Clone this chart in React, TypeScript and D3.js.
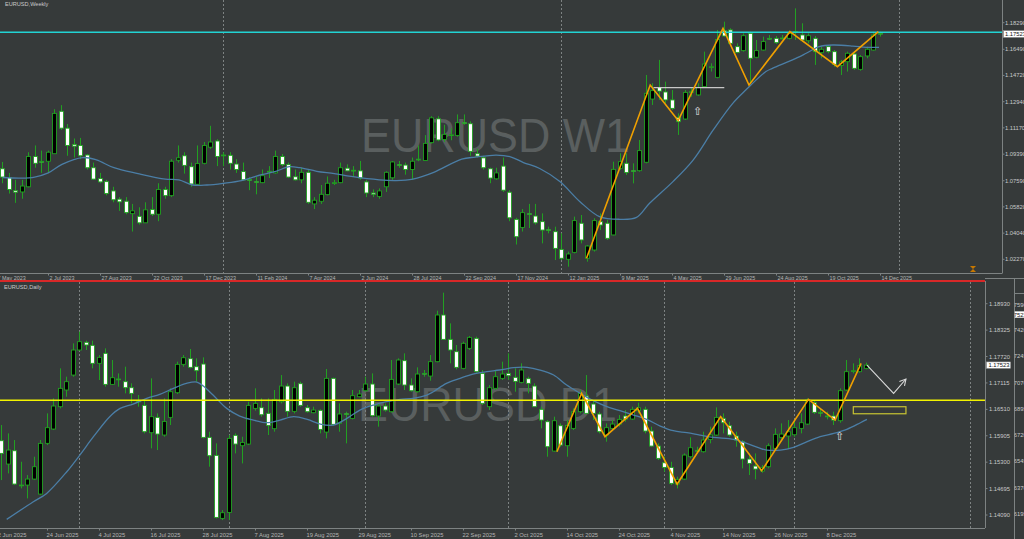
import React from "react";
import * as d3 from "d3";

// ================= Weekly EURUSD (W1) =================
const wOpen = [
  1.0840,1.0781,1.0692,1.0683,1.0718,1.0923,1.0889,1.0891,1.0942,1.1229,
  1.1115,1.1005,1.0998,1.0933,1.0847,1.0774,1.0753,1.0690,1.0634,1.0620,
  1.0536,1.0518,1.0474,1.0564,1.0532,1.0700,1.0658,1.0898,1.0928,1.0854,
  1.0735,1.0877,1.0986,1.1028,1.0933,1.0931,1.0872,1.0821,1.0767,1.0753,
  1.0746,1.0819,1.0812,1.0923,1.0868,1.0786,1.0765,1.0816,1.0602,1.0620,
  1.0665,1.0742,1.0746,1.0844,1.0830,1.0826,1.0751,1.0676,1.0653,1.0718,
  1.0779,1.0868,1.0865,1.0835,1.0903,1.0896,1.1017,1.1178,1.1038,1.1068,
  1.1066,1.1152,1.1145,1.0942,1.0914,1.0840,1.0772,1.0858,1.0681,1.0497,
  1.0443,1.0536,1.0520,1.0482,1.0428,1.0414,1.0294,1.0227,1.0274,1.0471,
  1.0234,1.0290,1.0482,1.0471,1.0392,1.0843,1.0877,1.0827,1.0827,1.0884,
  1.1312,1.1391,1.1360,1.1306,1.1188,1.1177,1.1360,1.1340,1.1396,1.1527,
  1.1459,1.1775,1.1780,1.1667,1.1640,1.1757,1.1595,1.1644,1.1723,1.1723,
  1.1720,1.1723,1.1766,1.1746,1.1707,1.1723,1.1626,1.1667,1.1633,1.1540,
  1.1565,1.1617,1.1513,1.1604,1.1644,1.1757,
];
const wHigh = [
  1.0886,1.0812,1.0765,1.0765,1.0952,1.0998,1.0963,1.0963,1.1243,1.1271,
  1.1143,1.1045,1.1049,1.0940,1.0882,1.0812,1.0765,1.0718,1.0648,1.0648,
  1.0602,1.0579,1.0613,1.0648,1.0742,1.0718,1.0905,1.0998,1.0952,1.0882,
  1.0998,1.1021,1.1131,1.1040,1.0952,1.0952,1.0905,1.0882,1.0784,1.0784,
  1.0835,1.0858,1.0963,1.0940,1.0882,1.0835,1.0847,1.0835,1.0648,1.0730,
  1.0788,1.0765,1.0882,1.0870,1.0858,1.0893,1.0765,1.0700,1.0707,1.0823,
  1.0893,1.0893,1.0882,1.0916,1.0998,1.1068,1.1196,1.1196,1.1138,1.1115,
  1.1208,1.1208,1.1161,1.0975,1.0928,1.0847,1.0847,1.0916,1.0695,1.0508,
  1.0567,1.0602,1.0602,1.0538,1.0448,1.0448,1.0403,1.0279,1.0516,1.0527,
  1.0324,1.0505,1.0538,1.0494,1.0888,1.0945,1.0945,1.0877,1.1035,1.1475,
  1.1419,1.1577,1.1430,1.1373,1.1215,1.1373,1.1385,1.1419,1.1633,1.1554,
  1.1780,1.1836,1.1791,1.1689,1.1757,1.1768,1.1712,1.1735,1.1746,1.1739,
  1.1746,1.1775,1.1926,1.1825,1.1757,1.1739,1.1667,1.1678,1.1644,1.1577,
  1.1633,1.1633,1.1610,1.1667,1.1768,1.1768,
];
const wLow = [
  1.0742,1.0672,1.0609,1.0637,1.0714,1.0847,1.0812,1.0812,1.0940,1.1103,
  1.0928,1.0916,1.0905,1.0835,1.0765,1.0742,1.0660,1.0613,1.0555,1.0532,
  1.0415,1.0462,1.0474,1.0520,1.0485,1.0637,1.0648,1.0882,1.0807,1.0718,
  1.0730,1.0870,1.0975,1.0858,1.0858,1.0835,1.0812,1.0760,1.0695,1.0667,
  1.0742,1.0777,1.0807,1.0858,1.0777,1.0760,1.0742,1.0602,1.0567,1.0602,
  1.0660,1.0730,1.0742,1.0823,1.0788,1.0765,1.0648,1.0648,1.0637,1.0683,
  1.0765,1.0847,1.0800,1.0765,1.0891,1.0893,1.1010,1.1026,1.1021,1.1033,
  1.1057,1.1138,1.0928,1.0916,1.0835,1.0742,1.0765,1.0683,1.0485,1.0327,
  1.0415,1.0439,1.0462,1.0335,1.0403,1.0222,1.0222,1.0177,1.0267,1.0335,
  1.0211,1.0279,1.0425,1.0358,1.0389,1.0832,1.0798,1.0741,1.0820,1.0877,
  1.1272,1.1306,1.1283,1.1238,1.1069,1.1170,1.1328,1.1333,1.1391,1.1498,
  1.1452,1.1735,1.1678,1.1622,1.1633,1.1419,1.1588,1.1640,1.1712,1.1685,
  1.1716,1.1716,1.1712,1.1701,1.1689,1.1543,1.1588,1.1622,1.1531,1.1475,
  1.1498,1.1509,1.1504,1.1588,1.1640,1.1735,
];
const wClose = [
  1.0784,1.0700,1.0681,1.0723,1.0923,1.0877,1.0887,1.0952,1.1215,1.1115,
  1.0998,1.0993,1.0928,1.0847,1.0770,1.0751,1.0672,1.0630,1.0616,1.0543,
  1.0555,1.0474,1.0562,1.0532,1.0700,1.0658,1.0891,1.0914,1.0863,1.0737,
  1.0875,1.0998,1.1021,1.0923,1.0931,1.0877,1.0835,1.0765,1.0763,1.0751,
  1.0793,1.0823,1.0923,1.0868,1.0784,1.0765,1.0816,1.0613,1.0627,1.0667,
  1.0742,1.0746,1.0847,1.0826,1.0828,1.0777,1.0676,1.0667,1.0690,1.0816,
  1.0886,1.0866,1.0835,1.0891,1.0905,1.1012,1.1185,1.1035,1.1073,1.1070,
  1.1152,1.1150,1.0958,1.0926,1.0847,1.0777,1.0812,1.0695,1.0508,1.0380,
  1.0543,1.0534,1.0474,1.0425,1.0422,1.0301,1.0234,1.0263,1.0489,1.0358,
  1.0317,1.0489,1.0459,1.0369,1.0836,1.0888,1.0814,1.0823,1.0963,1.1351,
  1.1369,1.1366,1.1306,1.1249,1.1159,1.1357,1.1362,1.1391,1.1549,1.1531,
  1.1716,1.1739,1.1689,1.1628,1.1741,1.1588,1.1640,1.1701,1.1721,1.1694,
  1.1725,1.1757,1.1770,1.1712,1.1741,1.1633,1.1649,1.1633,1.1547,1.1563,
  1.1622,1.1520,1.1599,1.1649,1.1746,1.1752,
];
const wLastWeek = "2025-12-14";
const wTickLabels = [
  "7 May 2023","2 Jul 2023","27 Aug 2023","22 Oct 2023","17 Dec 2023","11 Feb 2024",
  "7 Apr 2024","2 Jun 2024","28 Jul 2024","22 Sep 2024","17 Nov 2024","12 Jan 2025",
  "9 Mar 2025","4 May 2025","29 Jun 2025","24 Aug 2025","19 Oct 2025","14 Dec 2025",
];
const wPriceTicks = [1.1829,1.1649,1.1472,1.1294,1.1117,1.0939,1.0759,1.0582,1.0404,1.0227];
const wMaIdx = [0,2.75,4.9,7,9.1,12.3,14.4,17.1,20.8,25,27.1,29.2,31.4,34,36.7,39.8,42,44.1,45.7,48.3,51,53.6,57.9,60.5,63.1,66.3,70.6,72.7,75.9,78,80.1,82.6,85.7,88.8,91.8,94.9,97.5,99.5,103.1,106.2,109.3,112.3,114.3,117.4,118.4,121.5,123.6,125.6,127.7,130.8,132.8,134.8];
const wMaVal = [1.0781,1.0777,1.0784,1.0812,1.0870,1.0916,1.0900,1.0847,1.0807,1.0770,1.0765,1.0730,1.0730,1.0742,1.0760,1.0800,1.0823,1.0854,1.0847,1.0823,1.0807,1.0788,1.0765,1.0760,1.0770,1.0816,1.0905,1.0919,1.0933,1.0923,1.0882,1.0842,1.0753,1.0617,1.0516,1.0498,1.0511,1.0606,1.0753,1.0899,1.1103,1.1283,1.1373,1.1498,1.1520,1.1577,1.1622,1.1667,1.1678,1.1671,1.1662,1.1662];
const wZzIdx = [89.8,99.6,103.9,110.8,114.8,121.1,128.4,134.7];
const wZzVal = [1.0234,1.1407,1.1166,1.1791,1.1407,1.1768,1.1531,1.1768];
const wResistance = 1.1764;
const wRangeIdx = [100.1,111.0];
const wRangePrice = 1.1389;
const wMarker = [106.9,1.1231];

// ================= Daily EURUSD (D1) =================
const dOpen = [
  1.15792,1.15257,1.15562,1.14776,1.14776,1.14913,1.14569,1.15731,1.16059,1.16571,
  1.16953,1.17296,1.17869,1.18045,1.17976,1.17564,1.17793,1.17082,1.17205,1.17144,
  1.17006,1.16700,1.16601,1.15975,1.16326,1.15922,1.16326,1.16891,1.17541,1.17670,
  1.17487,1.17548,1.15868,1.15455,1.14012,1.14149,1.15914,1.15677,1.15715,1.16532,
  1.16548,1.16418,1.16067,1.16685,1.17044,1.16464,1.17098,1.16548,1.16433,1.16487,
  1.15990,1.17220,1.16189,1.16410,1.16303,1.16800,1.16937,1.17090,1.16357,1.16586,
  1.16456,1.17090,1.17625,1.17067,1.16914,1.17334,1.17273,1.17602,1.18671,1.18113,
  1.17831,1.17449,1.17907,1.18136,1.17334,1.16571,1.16991,1.17220,1.17334,1.17243,
  1.17128,1.17212,1.17044,1.16510,1.16227,1.15555,1.16135,1.15677,1.16074,1.16456,
  1.16815,1.16632,1.16403,1.15922,1.16074,1.16173,1.16357,1.16288,1.16479,1.16510,
  1.16013,1.15669,1.15287,1.15180,1.14799,1.14913,1.15425,1.15570,1.15540,1.15822,
  1.15922,1.16303,1.16135,1.15899,1.15769,1.15371,1.15211,1.15097,1.15196,1.15616,
  1.15868,1.15899,1.15929,1.16074,1.16173,1.16662,1.16441,1.16357,1.16357,1.16250,
  1.16953,1.17380,1.17373,1.17449,
];
const dHigh = [
  1.16151,1.15960,1.15807,1.15310,1.15005,1.15425,1.15807,1.16418,1.16762,1.17449,
  1.17258,1.18022,1.18289,1.18083,1.18083,1.17754,1.17907,1.17640,1.17334,1.17487,
  1.17105,1.16838,1.16723,1.17220,1.16418,1.16762,1.16991,1.17602,1.17754,1.17892,
  1.17678,1.17701,1.15998,1.15731,1.14203,1.15922,1.15960,1.15883,1.16685,1.16991,
  1.16762,1.16762,1.16953,1.17296,1.17105,1.17144,1.17144,1.16609,1.16571,1.16510,
  1.17434,1.17235,1.16647,1.16456,1.16953,1.16953,1.17258,1.17334,1.16647,1.16647,
  1.17640,1.17678,1.17793,1.17220,1.17472,1.17411,1.17754,1.18770,1.19183,1.18480,
  1.17984,1.18060,1.18190,1.18175,1.17411,1.17067,1.17411,1.17602,1.17793,1.17449,
  1.17564,1.17258,1.17105,1.16571,1.16265,1.16342,1.16189,1.16265,1.16532,1.16953,
  1.17296,1.16723,1.16456,1.16189,1.16265,1.16380,1.16494,1.16571,1.16662,1.16571,
  1.16113,1.15731,1.15425,1.15310,1.14967,1.15501,1.15868,1.15654,1.15998,1.16113,
  1.16555,1.16418,1.16227,1.15998,1.15807,1.15501,1.15501,1.15234,1.15731,1.16074,
  1.16189,1.16265,1.16265,1.16418,1.16762,1.16723,1.16532,1.16456,1.16456,1.16991,
  1.17640,1.17564,1.17678,1.17579,
];
const dLow = [
  1.14890,1.15043,1.14776,1.14699,1.14470,1.14890,1.14546,1.15692,1.16036,1.16532,
  1.16800,1.17258,1.17854,1.17869,1.17449,1.17182,1.17029,1.17067,1.17029,1.16876,
  1.16647,1.16571,1.15960,1.15616,1.15578,1.15883,1.16151,1.16861,1.17487,1.17449,
  1.17144,1.15845,1.15196,1.14012,1.13973,1.13973,1.15501,1.15272,1.15692,1.16479,
  1.16342,1.15922,1.15998,1.16647,1.16342,1.16418,1.16571,1.16433,1.16418,1.15960,
  1.15845,1.16143,1.15998,1.15731,1.16280,1.16784,1.16914,1.16342,1.16113,1.16456,
  1.16433,1.17067,1.16953,1.16914,1.16891,1.17258,1.17166,1.17587,1.18098,1.17564,
  1.17426,1.17426,1.17869,1.17350,1.16609,1.16494,1.16953,1.17182,1.17182,1.16914,
  1.17105,1.16876,1.16571,1.16074,1.15425,1.15540,1.15654,1.15425,1.16036,1.16418,
  1.16403,1.16265,1.15960,1.15769,1.16036,1.16113,1.16227,1.16265,1.16418,1.15960,
  1.15654,1.15349,1.15081,1.14776,1.14699,1.14890,1.15387,1.15501,1.15517,1.15731,
  1.15899,1.15960,1.15883,1.15654,1.15158,1.15005,1.14906,1.15058,1.15158,1.15562,
  1.15822,1.15616,1.15883,1.15960,1.16151,1.16403,1.16342,1.16280,1.16151,1.16204,
  1.16930,1.17334,1.17350,1.17426,
];
const dClose = [
  1.15501,1.15578,1.14799,1.14760,1.14913,1.15196,1.15731,1.16090,1.16586,1.16991,
  1.17144,1.17869,1.18060,1.17984,1.17564,1.17701,1.17082,1.17235,1.17190,1.17006,
  1.16876,1.16685,1.15998,1.16342,1.15944,1.16234,1.16914,1.17541,1.17693,1.17472,
  1.17396,1.15868,1.15448,1.14035,1.14142,1.15845,1.15715,1.15753,1.16601,1.16647,
  1.16387,1.16143,1.16739,1.17044,1.16464,1.17006,1.16601,1.16456,1.16494,1.16051,
  1.17220,1.16166,1.16403,1.16395,1.16823,1.16861,1.17090,1.16364,1.16586,1.16494,
  1.17197,1.17640,1.17067,1.16937,1.17319,1.17319,1.17602,1.18671,1.18113,1.17869,
  1.17472,1.18022,1.18159,1.17373,1.16647,1.17006,1.17258,1.17319,1.17281,1.17151,
  1.17411,1.17105,1.16571,1.16265,1.15654,1.16250,1.15692,1.16143,1.16456,1.16876,
  1.16418,1.16418,1.15998,1.16090,1.16173,1.16280,1.16288,1.16510,1.16548,1.16013,
  1.15669,1.15387,1.15180,1.14814,1.14906,1.15463,1.15631,1.15562,1.15807,1.15922,
  1.16326,1.16204,1.15922,1.15807,1.15371,1.15272,1.15142,1.15173,1.15677,1.15937,
  1.15944,1.15998,1.16090,1.16204,1.16723,1.16441,1.16425,1.16350,1.16265,1.16937,
  1.17373,1.17396,1.17510,1.17523,
];
const dFirstSession = "2025-06-13";
const dExtraSessions = ["2025-10-26"];
const dTickLabels = [
  "12 Jun 2025","24 Jun 2025","4 Jul 2025","16 Jul 2025","28 Jul 2025","7 Aug 2025",
  "19 Aug 2025","29 Aug 2025","10 Sep 2025","22 Sep 2025","2 Oct 2025","14 Oct 2025",
  "24 Oct 2025","4 Nov 2025","14 Nov 2025","26 Nov 2025","8 Dec 2025",
];
const dPriceTicks = [1.1893,1.18325,1.1772,1.17115,1.1651,1.15905,1.153,1.14695,1.1409];
const dMaIdx = [0.75,4.85,6.9,10,12,14.1,16.6,18.2,20.2,22.3,24.3,26.4,28.4,30,31,32.5,34.6,36.6,38.7,40.8,42.8,44.9,47,49,51,53.1,55.1,57.2,59.2,61.3,63.3,65.4,66.4,68.4,70.5,72.5,74.6,76.6,78.7,80.8,82.8,84.9,86.9,89,91,93.1,95.1,97.2,99.2,101.3,103.3,105.4,107.4,109.5,112.6,114.6,116.7,117.7,119.8,121.8,123.9,125.9,128,130,132.1,133.1];
const dMaVal = [1.13989,1.14394,1.14585,1.15081,1.15463,1.15883,1.16342,1.16532,1.16632,1.16762,1.16853,1.16991,1.17105,1.17136,1.17044,1.16838,1.16532,1.16357,1.16265,1.16204,1.16265,1.16342,1.16280,1.16173,1.16151,1.16303,1.16494,1.16609,1.16685,1.16739,1.16762,1.16838,1.16914,1.17105,1.17220,1.17319,1.17373,1.17411,1.17464,1.17472,1.17411,1.17296,1.17067,1.16876,1.16708,1.16571,1.16479,1.16380,1.16280,1.16128,1.16021,1.15975,1.15922,1.15868,1.15822,1.15731,1.15616,1.15578,1.15578,1.15639,1.15769,1.15883,1.15960,1.16051,1.16204,1.16280];
const dZzIdx = [85.4,89.2,92.8,97.8,103.9,110.6,116.9,124.1,128.2,132.2];
const dZzVal = [1.15540,1.16876,1.15883,1.16532,1.14799,1.16342,1.15104,1.16739,1.16265,1.17564];
const dLevel = 1.16717;
const dZoneIdx = [131.0,139.1];
const dZonePrice = [1.16570,1.16409];
const dProjIdx = [133.1,137.2,139.1];
const dProjVal = [1.17525,1.16877,1.17205];
const dMarker = [128.9,1.15905];
const lastPrice = 1.17523;
// neighbouring window's scale, only its tail is visible at the right edge
const sidePanelValues = [1.1759,1.1742,1.17245,1.1707,1.16895,1.1672,1.16545,1.1637,1.16195];

// ================= styling =================
const BG = "#363a3a";
const WICK = "#22a022";
const FRAME = "#7d8282";
const TXT = "#c9c9c9";
const FONT = "'Liberation Sans', Arial, sans-serif";
const fmt5 = d3.format(".5f");
const isoFmt = d3.timeFormat("%Y-%m-%d");
const isoParse = d3.timeParse("%Y-%m-%d");
const labelParse = d3.timeParse("%d %b %Y");

// panel geometry
const TOP = { right: 1002, bottom: 273.5 };
const BOT = { top: 282, right: 985, bottom: 528 };

const xW = d3.scaleLinear().domain([0, wOpen.length - 1]).range([2.8, 880.3]);
const yW = d3.scaleLinear().domain([1.0227, 1.1829]).range([259.3, 22.7]);
const xD = d3.scaleLinear().domain([0, dOpen.length - 1]).range([1.8, 866.3]);
const yD = d3.scaleLinear().domain([1.1409, 1.1893]).range([515, 303.7]);
const ySide = d3.scaleLinear().domain([1.1619, 1.1759]).range([514.5, 304.5]);

// weekly calendar
const wLast = isoParse(wLastWeek)!;
const wFirst = d3.timeWeek.offset(wLast, -(wOpen.length - 1));
const wDate = (i: number) => d3.timeWeek.offset(wFirst, i);
const wIndexOf = (d: Date) => Math.round((+d - +wFirst) / (7 * 864e5));

// daily calendar
const dDates: Date[] = (() => {
  const out: Date[] = [];
  const extra = new Set(dExtraSessions);
  let d = isoParse(dFirstSession)!;
  while (out.length < dOpen.length) {
    const wd = d.getDay();
    if ((wd >= 1 && wd <= 5) || extra.has(isoFmt(d))) out.push(d);
    d = d3.timeDay.offset(d, 1);
  }
  return out;
})();
const dDate = (i: number) =>
  i < dDates.length ? dDates[i] : d3.timeDay.offset(dDates[dDates.length - 1], i - (dDates.length - 1));
const dIndexOf = (d: Date) => {
  const k = dDates.findIndex((x) => isoFmt(x) === isoFmt(d));
  if (k >= 0) return k;
  let n = 0;
  let c = d;
  while (c < dDates[0]) {
    const wd = c.getDay();
    if (wd >= 1 && wd <= 5) n++;
    c = d3.timeDay.offset(c, 1);
  }
  return -n;
};

function Candles({ o, h, l, c, x, y }: any) {
  return (
    <g>
      {o.map((_: number, i: number) => {
        const cx = Math.floor(x(i)) + 0.5;
        const bull = c[i] >= o[i];
        const t = y(Math.max(o[i], c[i]));
        const b = y(Math.min(o[i], c[i]));
        return (
          <g key={i}>
            <line x1={cx} x2={cx} y1={y(h[i])} y2={y(l[i])} stroke={WICK} strokeWidth={1} />
            <rect x={cx - 2} y={t} width={4} height={Math.max(b - t, 0.8)}
              fill={bull ? "#000" : "#fff"} stroke={WICK} strokeWidth={0.9} />
          </g>
        );
      })}
    </g>
  );
}

export default function App() {
  // separators
  const wSeps: number[] = [];
  for (let k = 1; xW(k) < TOP.right; k++) {
    if (wDate(k).getFullYear() !== wDate(k - 1).getFullYear()) wSeps.push(k);
  }
  const dSeps: number[] = [];
  for (let k = 1; xD(k) < BOT.right; k++) {
    if (dDate(k).getMonth() !== dDate(k - 1).getMonth()) dSeps.push(k);
  }

  const wMaLine = d3.line<number>().x((d) => xW(d)).y((_, i) => yW(wMaVal[i])).curve(d3.curveCatmullRom)(wMaIdx)!;
  const wZzLine = d3.line<number>().x((d) => xW(d)).y((_, i) => yW(wZzVal[i]))(wZzIdx)!;
  const dMaLine = d3.line<number>().x((d) => xD(d)).y((_, i) => yD(dMaVal[i])).curve(d3.curveCatmullRom)(dMaIdx)!;
  const dZzLine = d3.line<number>().x((d) => xD(d)).y((_, i) => yD(dZzVal[i]))(dZzIdx)!;
  const projPts = dProjIdx.map((k, i) => [xD(k), yD(dProjVal[i])] as [number, number]);
  const projLine = d3.line()(projPts)!;
  const [p1, p2] = [projPts[1], projPts[2]];
  const ang = Math.atan2(p2[1] - p1[1], p2[0] - p1[0]);
  const head = [ang + Math.PI - 0.5, ang + Math.PI + 0.5].map((a) => [p2[0] + 7 * Math.cos(a), p2[1] + 7 * Math.sin(a)]);

  return (
    <svg width={1024} height={539} style={{ position: "fixed", left: 0, top: 0, display: "block" }}
      fontFamily={FONT}>
      <defs>
        <clipPath id="clipTop"><rect x={0} y={0} width={TOP.right} height={TOP.bottom} /></clipPath>
        <clipPath id="clipBot"><rect x={0} y={BOT.top} width={BOT.right} height={BOT.bottom - BOT.top} /></clipPath>
        <clipPath id="clipSide"><rect x={1014.5} y={294} width={10} height={245} /></clipPath>
      </defs>
      <rect x={0} y={0} width={1024} height={539} fill={BG} />

      {/* ============ TOP PANEL (weekly) ============ */}
      <g clipPath="url(#clipTop)">
        <text x={361} y={152} fontSize={48} fill="#5a5f5f" textLength={269} lengthAdjust="spacingAndGlyphs">EURUSD W1</text>
        {wSeps.map((k) => (
          <line key={k} x1={Math.floor(xW(k)) + 0.5} x2={Math.floor(xW(k)) + 0.5} y1={0} y2={TOP.bottom}
            stroke={FRAME} strokeDasharray="2,2" strokeWidth={1} />
        ))}
        <Candles o={wOpen} h={wHigh} l={wLow} c={wClose} x={xW} y={yW} />
        <path d={wMaLine} fill="none" stroke="#4b7ea6" strokeWidth={1.3} />
        <line x1={0} x2={TOP.right} y1={yW(wResistance)} y2={yW(wResistance)} stroke="#22d3d3" strokeWidth={1.6} />
        <line x1={xW(wRangeIdx[0])} x2={xW(wRangeIdx[1])} y1={yW(wRangePrice)} y2={yW(wRangePrice)} stroke="#c8c8c8" strokeWidth={1.2} />
        <path d={wZzLine} fill="none" stroke="#f0a000" strokeWidth={1.6} />
        <text x={xW(wMarker[0])} y={yW(wMarker[1]) + 4} fontSize={11} textAnchor="middle" fill="#e0e0e0"
          fontFamily="'DejaVu Sans', sans-serif">⇧</text>
        <g fill="#c87800" transform="translate(973,269)">
          <path d="M-3,-3 L3,-3 L0,0 Z" />
          <path d="M-3,3 L3,3 L0,0 Z" />
        </g>
      </g>
      <text x={5} y={5.5} fontSize={5.6} fill={TXT}>EURUSD,Weekly</text>
      {/* top frame */}
      <line x1={0} x2={TOP.right} y1={TOP.bottom} y2={TOP.bottom} stroke={FRAME} />
      <line x1={TOP.right + 0.5} x2={TOP.right + 0.5} y1={0} y2={TOP.bottom} stroke={FRAME} />
      {wPriceTicks.map((p) => (
        <g key={p}>
          <line x1={TOP.right} x2={TOP.right + 2.5} y1={yW(p)} y2={yW(p)} stroke={FRAME} />
          <text x={1005} y={yW(p) + 2} fontSize={5.8} fill={TXT}>{fmt5(p)}</text>
        </g>
      ))}
      <rect x={1003.5} y={yW(lastPrice) - 3.3} width={22} height={6.6} fill="#fff" stroke="#999" strokeWidth={0.5} />
      <text x={1005} y={yW(lastPrice) + 2} fontSize={5.8} fill="#111">{fmt5(lastPrice)}</text>
      {wTickLabels.map((s) => {
        const xx = Math.floor(xW(wIndexOf(labelParse(s)!))) + 0.5;
        return (
          <g key={s}>
            <line x1={xx} x2={xx} y1={TOP.bottom} y2={TOP.bottom + 2} stroke={FRAME} />
            <text x={xx + 1} y={279.6} fontSize={5.4} fill="#b5b5b5">{s}</text>
          </g>
        );
      })}

      {/* ============ BOTTOM PANEL (daily) ============ */}
      <line x1={0} x2={BOT.right} y1={281} y2={281} stroke="#d82828" strokeWidth={2} />
      <g clipPath="url(#clipBot)">
        <text x={358} y={421} fontSize={48} fill="#5a5f5f" textLength={259} lengthAdjust="spacingAndGlyphs">EURUSD D1</text>
        {dSeps.map((k) => (
          <line key={k} x1={Math.floor(xD(k)) + 0.5} x2={Math.floor(xD(k)) + 0.5} y1={BOT.top} y2={BOT.bottom}
            stroke={FRAME} strokeDasharray="2,2" strokeWidth={1} />
        ))}
        <Candles o={dOpen} h={dHigh} l={dLow} c={dClose} x={xD} y={yD} />
        <path d={dMaLine} fill="none" stroke="#4b7ea6" strokeWidth={1.3} />
        <line x1={0} x2={BOT.right} y1={yD(dLevel)} y2={yD(dLevel)} stroke="#f2f200" strokeWidth={1.6} />
        <rect x={xD(dZoneIdx[0])} y={yD(dZonePrice[0])} width={xD(dZoneIdx[1]) - xD(dZoneIdx[0])}
          height={yD(dZonePrice[1]) - yD(dZonePrice[0])} fill="none" stroke="#c8c432" strokeWidth={1.2} />
        <path d={dZzLine} fill="none" stroke="#f0a000" strokeWidth={1.6} />
        <path d={projLine} fill="none" stroke="#d8d8d8" strokeWidth={1.1} />
        <path d={`M${head[0][0]},${head[0][1]}L${p2[0]},${p2[1]}L${head[1][0]},${head[1][1]}`} fill="none" stroke="#d8d8d8" strokeWidth={1.1} />
        <text x={xD(dMarker[0])} y={yD(dMarker[1]) + 4} fontSize={11} textAnchor="middle" fill="#e0e0e0"
          fontFamily="'DejaVu Sans', sans-serif">⇧</text>
      </g>
      <text x={4} y={288.5} fontSize={5.6} fill={TXT}>EURUSD,Daily</text>
      {/* bottom frame */}
      <line x1={0} x2={BOT.right} y1={BOT.bottom + 0.5} y2={BOT.bottom + 0.5} stroke={FRAME} />
      <line x1={BOT.right + 0.5} x2={BOT.right + 0.5} y1={281} y2={BOT.bottom} stroke={FRAME} />
      <line x1={BOT.right} x2={1024} y1={278.5} y2={278.5} stroke={FRAME} />
      <line x1={1014.5} x2={1014.5} y1={278.5} y2={539} stroke={FRAME} />
      <line x1={1014.5} x2={1024} y1={293.5} y2={293.5} stroke={FRAME} />
      {dPriceTicks.map((p) => (
        <g key={p}>
          <line x1={BOT.right} x2={BOT.right + 2.5} y1={yD(p)} y2={yD(p)} stroke={FRAME} />
          <text x={989} y={yD(p) + 2} fontSize={5.8} fill={TXT}>{fmt5(p)}</text>
        </g>
      ))}
      <rect x={986.5} y={yD(lastPrice) - 3.2} width={24} height={6.4} fill="#fff" stroke="#999" strokeWidth={0.5} />
      <text x={988.5} y={yD(lastPrice) + 2} fontSize={5.8} fill="#111">{fmt5(lastPrice)}</text>
      {dTickLabels.map((s) => {
        const xx = Math.floor(xD(dIndexOf(labelParse(s)!))) + 0.5;
        return (
          <g key={s}>
            <line x1={xx} x2={xx} y1={BOT.bottom} y2={BOT.bottom + 2.5} stroke={FRAME} />
            <text x={xx - 1} y={536.6} fontSize={5.8} fill="#b5b5b5">{s}</text>
          </g>
        );
      })}

      {/* tail of the neighbouring window's price scale */}
      <g clipPath="url(#clipSide)">
        {sidePanelValues.map((p) => (
          <text key={p} x={1013.8} y={ySide(p) + 2} fontSize={5.8} fill={TXT}>{fmt5(p).slice(3)}</text>
        ))}
        <rect x={1014.5} y={ySide(lastPrice) - 3.2} width={12} height={6.4} fill="#fff" />
        <text x={1013.8} y={ySide(lastPrice) + 2} fontSize={5.8} fill="#111">{fmt5(lastPrice).slice(3)}</text>
      </g>
    </svg>
  );
}
